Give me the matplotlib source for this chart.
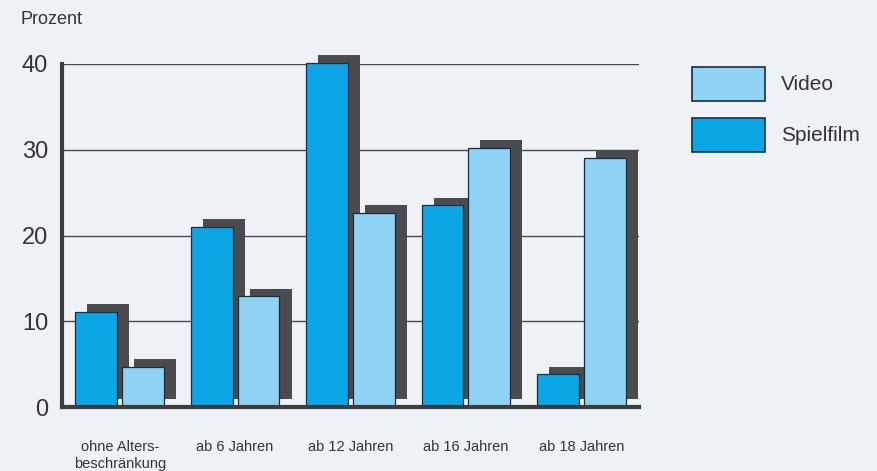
import matplotlib
matplotlib.use("Agg")
import matplotlib.pyplot as plt
from matplotlib.patches import Rectangle
import numpy as np

# Anteil der Filme nach Altersfreigabe (Prozent)
categories = ["ohne Alters-\nbeschränkung", "ab 6 Jahren", "ab 12 Jahren",
              "ab 16 Jahren", "ab 18 Jahren"]
spielfilm = [11.1, 21.0, 40.1, 23.5, 3.8]
video = [4.7, 12.9, 22.6, 30.2, 29.0]
yticks = [0, 10, 20, 30, 40]

BG = "#eef1f6"
C_SPIEL = "#0ba6e6"
C_VIDEO = "#8ed2f4"
C_SHADOW = "#4b4b4f"
C_EDGE = "#1d2b44"
TXT = "#333333"

plt.rcParams['font.family'] = ['Liberation Sans', 'DejaVu Sans']

fig = plt.figure(figsize=(8.77, 4.71), dpi=100, facecolor=BG)
ax = fig.add_axes([62 / 877, 64 / 471, 577 / 877, 343 / 471])
ax.set_facecolor(BG)

x = np.arange(len(categories))
w = 0.363
off = 0.203
dx, dy = 0.105, 0.9

# Schatten hinter den Balken
for vals, pos in ((spielfilm, x - off), (video, x + off)):
    ax.bar(pos + dx, vals, w, bottom=dy, color=C_SHADOW, linewidth=0,
           zorder=2, clip_on=False)

ax.bar(x - off, spielfilm, w, color=C_SPIEL, edgecolor=C_EDGE, linewidth=0.9,
       zorder=3, clip_on=False)
ax.bar(x + off, video, w, color=C_VIDEO, edgecolor=C_EDGE, linewidth=0.9,
       zorder=3, clip_on=False)

ax.set_xlim(-0.5, 4.5)
ax.set_ylim(0, 40)
ax.set_yticks(yticks)
ax.set_yticklabels([str(t) for t in yticks], fontsize=17, color=TXT)
ax.set_xticks(x)
ax.set_xticklabels(categories, fontsize=10.5, color=TXT, linespacing=1.2)
ax.tick_params(axis="y", length=0, pad=10)
ax.tick_params(axis="x", length=0, pad=24)

for t in yticks[1:]:
    ax.axhline(t, color="#4a4a4a", linewidth=1.0, zorder=1)

for s in ("top", "right"):
    ax.spines[s].set_visible(False)
ax.spines["left"].set_linewidth(3)
ax.spines["left"].set_color("#3c3c3c")
ax.spines["bottom"].set_linewidth(3)
ax.spines["bottom"].set_color("#3c3c3c")
ax.spines["bottom"].set_zorder(4)

fig.text(20 / 877, 1 - 20 / 471, "Prozent", fontsize=13, color=TXT,
         va="center", ha="left")

# Legende
legend_items = [("Video", C_VIDEO, 67), ("Spielfilm", C_SPIEL, 118)]
for label, col, top in legend_items:
    fig.add_artist(Rectangle((692 / 877, 1 - (top + 34) / 471), 73 / 877,
                             34 / 471, transform=fig.transFigure,
                             facecolor=col, edgecolor=C_EDGE, linewidth=1.2))
    fig.text(781 / 877, 1 - (top + 18) / 471, label, fontsize=15,
             color=TXT, va="center", ha="left")

fig.savefig("out.png", dpi=100, facecolor=BG)
